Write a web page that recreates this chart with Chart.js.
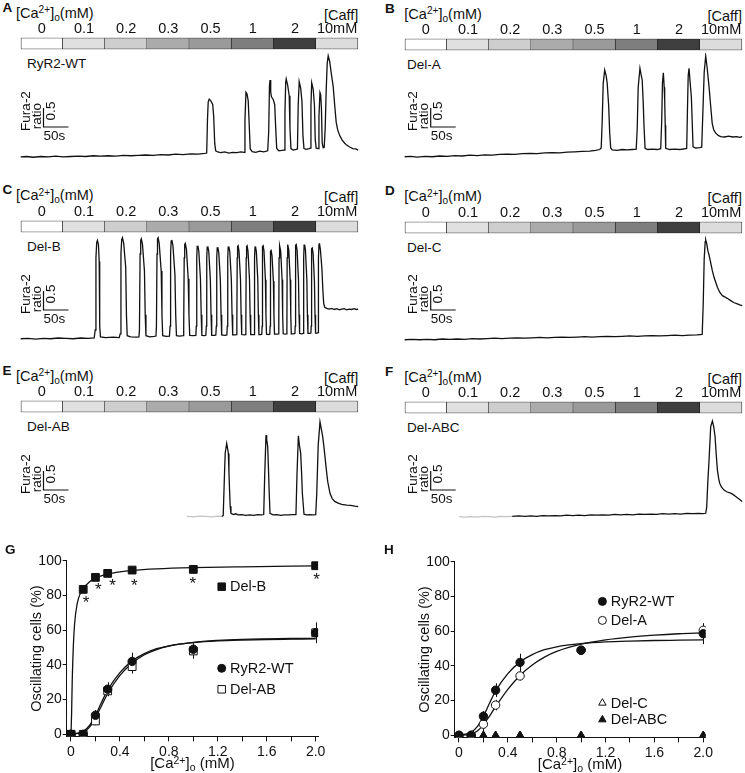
<!DOCTYPE html>
<html><head><meta charset="utf-8">
<script src="https://cdn.jsdelivr.net/npm/chart.js@4.4.1/dist/chart.umd.min.js"></script>
<style>
html,body{margin:0;padding:0;background:#fff;}
#fig{position:relative;width:745px;height:773px;overflow:hidden;font-family:"Liberation Sans",Arial,Helvetica,sans-serif;color:#111;}
#fig canvas{position:absolute;}
.lbl{position:absolute;white-space:nowrap;line-height:1;}
.sup{font-size:0.7em;position:relative;top:-0.42em;}
.sub{font-size:0.7em;position:relative;top:0.3em;}
</style></head><body><div id="fig"></div>
<script>
// ---------------- DATA ----------------
const concLabels = ['0','0.1','0.2','0.3','0.5','1','2','10mM'];
const concColors = ['#ffffff','#e0e0e0','#cecece','#ababab','#9a9a9a','#7e7e7e','#3f3f3f','#dcdcdc'];
const traceNames = ['RyR2-WT','Del-A','Del-B','Del-C','Del-AB','Del-ABC'];
const scaleBarTime = 50, scaleBarRatio = 0.5;

// Fura-2 ratio traces: [time (s), ratio]
const traceWT = [[0,0.24],[12,0.25],[25,0.23],[40,0.25],[55,0.24],[70,0.26],[85,0.24],[100,0.25],[115,0.26],[130,0.25],[145,0.27],[160,0.26],[175,0.27],[190,0.26],[205,0.28],[220,0.27],[235,0.28],[250,0.29],[265,0.28],[280,0.30],[295,0.29],[310,0.31],[325,0.30],[340,0.32],[355,0.31],[368,0.33],
[372,0.34],[373.5,1.2],[375,1.68],[377,1.76],[380,1.72],[384,1.62],[386,1.3],[388,0.6],[390,0.40],[394,0.37],[400,0.35],[408,0.37],[416,0.34],[424,0.36],[432,0.35],[440,0.37],[447,0.36],
[448.5,1.2],[450.5,1.94],[452.5,1.9],[455,1.72],[457,1.1],[459,0.45],[463,0.38],[470,0.36],[478,0.39],[486,0.37],[494,0.40],
[496,0.9],[497.5,2.1],[498.6,2.26],[500,1.95],[501.5,1.82],[505,1.75],[508,1.62],[510,1.0],[512,0.46],[516,0.40],[522,0.41],[527,0.42],
[528.5,1.4],[530,2.2],[531,2.29],[534,2.12],[537,1.85],[538.5,1.0],[540.5,0.46],[545,0.42],[551,0.44],[553.5,0.45],
[555,1.6],[557,2.22],[560,2.05],[562.5,1.7],[564.5,0.8],[566.5,0.46],[571,0.44],[577,0.46],[579,0.47],
[580.5,1.6],[582,2.19],[585,2.02],[587.5,1.6],[589,0.7],[591,0.47],[595,0.46],
[596.5,1.3],[598.5,1.93],[600,1.87],[601.5,1.5],[603,0.6],[605,0.48],[607,0.49],
[609,1.0],[611,2.0],[613,2.7],[615,2.9],[618,2.75],[621,2.45],[625,2.09],[628,1.6],[631,1.15],[634,0.95],[638,0.8],[643,0.68],[648,0.6],[652,0.55],[658,0.5],[664,0.46],[670,0.45],[675,0.42]];

const traceDelA = [[0,0.27],[12,0.28],[25,0.26],[40,0.28],[55,0.27],[70,0.29],[85,0.28],[100,0.30],[115,0.29],[130,0.31],[145,0.30],[160,0.32],[175,0.31],[190,0.33],[205,0.34],[220,0.33],[235,0.35],[250,0.36],[265,0.35],[280,0.37],[295,0.38],[310,0.37],[325,0.39],[340,0.40],[355,0.41],[370,0.42],[382,0.44],[390,0.46],[393,0.50],
[395,1.2],[397,2.2],[400,2.55],[403,2.4],[405,2.2],[408,1.6],[410,0.89],[412,0.5],[415,0.45],[425,0.44],[435,0.46],[445,0.45],[455,0.46],[463,0.47],
[465,1.0],[467,2.1],[470.5,2.6],[473,2.42],[475,2.29],[477,1.7],[478.7,1.06],[480.7,0.49],[486,0.46],[495,0.47],[505,0.46],[512,0.48],
[514,1.2],[515.5,2.2],[517.3,2.48],[519,2.1],[520,1.76],[521,1.1],[522,0.49],[530,0.46],[540,0.47],[550,0.46],[560,0.48],[564,0.49],
[565.5,1.5],[567,2.4],[568.7,2.6],[571,2.2],[573.3,1.85],[575,1.2],[576.7,0.53],[582,0.5],[590,0.51],[594,0.52],
[596,1.3],[599,2.5],[602,2.92],[605,2.6],[608.7,2.11],[612,1.6],[615,1.15],[618,0.98],[622,0.89],[627,0.83],[632,0.8],[640,0.79],[648,0.81],[656,0.79],[664,0.8],[670,0.78],[675,0.8]];

const traceDelB = [[0,0.27],[15,0.28],[30,0.26],[45,0.28],[60,0.27],[75,0.29],[90,0.28],[105,0.27],[120,0.29],[135,0.28],[147,0.29],
[149,0.5],[150.5,2.4],[152,2.8],[153.5,2.86],[155.5,2.75],[157,2.3],[158,0.6],[159.5,0.32],[170,0.3],[185,0.31],[197,0.3],
[199,0.4],[200.5,2.5],[202,2.88],[203.5,2.93],[206,2.78],[210,2.15],[211.5,0.9],[213,0.35],[220,0.32],[232,0.31],[236.5,0.32],
[237.5,0.5],[238.8,2.5],[240,2.86],[241.2,2.9],[243.5,2.76],[247.5,2.05],[249,0.9],[250.5,0.35],[258,0.32],[267,0.33],[270.5,0.34],
[271.5,0.6],[272.6,2.5],[273.6,2.9],[274.8,2.93],[277,2.78],[281,2.05],[282.5,0.9],[284,0.35],[291,0.33],[297.5,0.34],
[298.8,0.6],[299.8,2.5],[300.9,2.84],[302.2,2.87],[304.5,2.72],[308.5,1.95],[310,0.9],[311.5,0.35],[318,0.34],[325,0.35],
[326,0.6],[327,2.4],[328,2.75],[329.2,2.78],[331.5,2.62],[335,1.85],[336.5,0.9],[338,0.36],[345,0.35],[350.3,0.36],
[351.2,0.6],[352.1,2.4],[353,2.7],[354.2,2.72],[356.2,2.58],[359.5,1.85],[361,0.9],[362.3,0.36],[368,0.35],[370.3,0.36],
[371.2,0.6],[372.1,2.4],[373,2.68],[374.2,2.70],[376.2,2.56],[379.3,1.82],[380.7,0.9],[382,0.36],[388,0.36],[390.3,0.37],
[391.2,0.6],[392.1,2.4],[393,2.66],[394.2,2.68],[396.2,2.53],[399.3,1.82],[400.7,0.9],[402,0.37],[408,0.36],[412.3,0.37],
[413.2,0.6],[414.1,2.4],[415,2.68],[416.2,2.70],[418.2,2.56],[421.3,1.82],[422.7,0.9],[424,0.37],[429,0.37],[431.5,0.38],
[432.3,0.6],[433,2.4],[433.8,2.7],[434.8,2.72],[436.6,2.58],[439.6,1.82],[440.8,0.9],[442,0.38],[447,0.37],[449.6,0.38],
[450.3,0.6],[451,2.4],[451.8,2.7],[452.8,2.72],[454.6,2.58],[457.6,1.82],[458.8,0.9],[460,0.38],[464.5,0.38],[466.8,0.38],
[467.4,0.6],[468,2.4],[468.6,2.68],[469.6,2.70],[471.3,2.56],[474.2,1.82],[475.3,0.9],[476.4,0.38],[480,0.38],[482.2,0.39],
[482.8,0.6],[483.3,2.4],[483.9,2.7],[484.9,2.72],[486.6,2.58],[489.4,1.82],[490.5,0.9],[491.6,0.39],[495.5,0.38],[498.2,0.39],
[498.8,0.6],[499.3,2.3],[499.9,2.57],[500.9,2.59],[502.6,2.46],[505.4,1.78],[506.5,0.9],[507.6,0.39],[512,0.39],[515.6,0.4],
[516.2,0.6],[516.7,2.4],[517.3,2.7],[518.3,2.72],[520,2.58],[522.8,1.82],[523.9,0.9],[525,0.4],[529,0.39],[531.8,0.4],
[532.4,0.6],[532.9,2.4],[533.5,2.73],[534.5,2.75],[536.2,2.6],[539,1.82],[540.1,0.9],[541.2,0.4],[545,0.4],[548.4,0.41],
[549,0.6],[549.5,2.4],[550.1,2.73],[551.1,2.75],[552.8,2.6],[555.6,1.82],[556.7,0.9],[557.8,0.41],[562,0.4],[565.1,0.41],
[565.7,0.6],[566.2,2.4],[566.8,2.73],[567.8,2.75],[569.5,2.6],[572.3,1.82],[573.4,0.9],[574.5,0.41],[578,0.41],[580.4,0.42],
[581,0.6],[581.5,2.3],[582.1,2.64],[583.1,2.66],[584.8,2.52],[587.5,1.78],[588.6,0.9],[589.7,0.42],[592.5,0.42],[594.6,0.43],
[595.2,0.8],[595.8,2.4],[596.6,2.76],[597.6,2.78],[599.5,2.6],[602.5,2.1],[604.5,1.5],[606,1.2],[608,1.1],[612,1.07],[617,1.05],[622,1.07],[627,1.04],[632,1.06],[637,1.03],[642,1.05],[647,1.06],[652,1.03],[657,1.05],[662,1.04],[667,1.06],[671,1.04],[675,1.05]];

const traceDelC = [[0,0.27],[15,0.28],[30,0.27],[45,0.28],[60,0.27],[75,0.29],[90,0.28],[105,0.29],[120,0.28],[135,0.30],[150,0.29],[165,0.30],[180,0.31],[195,0.30],[210,0.31],[225,0.32],[240,0.31],[255,0.32],[270,0.33],[285,0.32],[300,0.33],[315,0.34],[330,0.33],[345,0.34],[360,0.35],[375,0.34],[390,0.35],[405,0.36],[420,0.35],[435,0.36],[450,0.37],[465,0.36],[480,0.37],[495,0.38],[510,0.37],[525,0.38],[540,0.39],[555,0.38],[570,0.39],[585,0.40],[595,0.41],
[597,1.2],[599,2.4],[601,2.85],[602,2.9],[604,2.8],[606.5,2.6],[608.7,2.5],[612,2.3],[615,2.1],[619,1.9],[625.4,1.65],[630,1.52],[635.4,1.43],[640,1.40],[645,1.36],[652,1.3],[658,1.25],[664,1.22],[670,1.19],[675,1.17]];

const traceDelAB = [[332,0.33],[345,0.32],[358,0.34],[370,0.33],[382,0.32],[394,0.34],[402,0.33],[405,0.35],
[407,1.2],[409,2.0],[412,2.25],[414,2.1],[415.3,1.99],[416.5,1.5],[417.5,1.1],[419,0.6],[420.5,0.41],[425,0.38],[430,0.40],[435,0.37],[442,0.38],[450,0.36],[458,0.37],[466,0.36],[474,0.38],[481,0.37],[486,0.38],
[488,1.4],[490.6,2.47],[492,2.35],[494,2.17],[495.5,1.6],[496.6,1.11],[498.6,0.41],[505,0.37],[512,0.38],[520,0.36],[528,0.37],[536,0.37],[544,0.38],[550.5,0.38],
[552.5,1.4],[555.3,2.45],[557.5,2.2],[560,1.99],[562,1.4],[563.3,0.94],[566.6,0.39],[572,0.37],[578,0.38],[584,0.37],[590,0.38],
[592,0.9],[595,2.2],[598.6,2.82],[601,2.65],[604,2.43],[607,2.1],[610.6,1.64],[614,1.25],[618.6,0.94],[623,0.8],[628.6,0.72],[635,0.68],[642,0.65],[652,0.63],[660,0.62],[668,0.6],[675,0.59]];

const traceDelABC = [[109,0.35],[120,0.34],[132,0.35],[144,0.34],[156,0.36],[168,0.35],[180,0.34],[192,0.36],[204,0.35],[215,0.36],[228,0.37],[240,0.36],[252,0.37],[264,0.36],[276,0.38],[288,0.37],[300,0.38],[312,0.37],[324,0.39],[336,0.38],[348,0.39],[360,0.38],[372,0.40],[384,0.39],[396,0.40],[408,0.39],[420,0.41],[432,0.40],[444,0.41],[456,0.40],[468,0.42],[480,0.41],[492,0.42],[504,0.41],[516,0.43],[528,0.42],[540,0.43],[552,0.42],[564,0.44],[576,0.43],[588,0.44],[596,0.43],[602,0.44],
[604,0.6],[606,1.2],[608.7,1.84],[612,2.72],[615.4,2.87],[618,2.72],[620.7,2.46],[623,2.0],[625.4,1.58],[628,1.35],[630,1.23],[634,1.12],[638.7,1.05],[645,1.0],[652,0.97],[657,0.93],[662,0.88],[668,0.82],[675,0.75]];

// Oscillating cells (%) vs [Ca2+]o (mM)
const caConc = [0, 0.1, 0.2, 0.3, 0.5, 1.0, 2.0];
const oscWT = [0, 0, 11, 26, 42, 49, 58.5];
const oscWTErr = [0, 0, 3, 4, 5, 2, 6];
const oscDelB = [0, 83.5, 90.4, 92.7, 94.6, 95, 97.1];
const oscDelBErr = [0, 2, 1.5, 2.5, 1, 2.5, 1];
const oscDelAB = [0, 0, 7.7, 25, 39, 48, 58.5];
const oscDelABErr = [0, 0, 2.5, 3, 4, 4.5, 5];
const oscDelA = [0, 0, 6.4, 17.4, 34.2, 49, 60.5];
const oscDelAErr = [0, 0, 4, 3, 2.5, 2, 4];
const oscDelC = [0, 0, 0, 0, 0, 0, 0];
const oscDelABC = [0, 0, 0, 0, 0, 0, 0];
// significance asterisks (Del-B)
const starX = [0.123, 0.223, 0.34, 0.517, 0.995, 2.008];
const starY = [78.3, 86, 88.5, 88.5, 89.3, 91.8];
// fitted curves [conc, %]
const fitDelB = [[0,0],[0.005,12],[0.01,30],[0.02,52],[0.03,64],[0.05,75],[0.075,81],[0.1,84],[0.15,87.8],[0.2,90],[0.3,92.3],[0.4,93.6],[0.5,94.4],[0.7,95.3],[1.0,96],[1.4,96.5],[2.0,97]];
const fitWT = [[0,0],[0.1,1.8],[0.15,5],[0.2,11],[0.25,18.5],[0.3,25.5],[0.4,35.5],[0.5,42.3],[0.6,46.5],[0.7,49.3],[0.8,51],[1.0,52.8],[1.2,53.8],[1.4,54.3],[1.6,54.6],[1.8,54.8],[2.0,55]];
const fitDelAB = [[0,0],[0.1,1.2],[0.15,4],[0.2,9.5],[0.25,16.5],[0.3,23.5],[0.4,34],[0.5,41],[0.6,45.8],[0.7,48.8],[0.8,50.8],[1.0,53],[1.2,54.1],[1.4,54.7],[1.6,55],[1.8,55.2],[2.0,55.3]];
const fitDelA = [[0,0],[0.1,0.8],[0.15,2.5],[0.2,6.2],[0.25,11],[0.3,16.5],[0.4,26.5],[0.5,34.5],[0.6,40.5],[0.7,45],[0.8,48.3],[1.0,52.5],[1.2,55],[1.4,56.6],[1.6,57.7],[1.8,58.5],[2.0,59]];
const xTickStep = 0.2, yTickStep = 20;

// ---------------- LAYOUT ----------------
const FONT = '"Liberation Sans", Arial, Helvetica, sans-serif';
const INK = '#111';
const fig = document.getElementById('fig');
function txt(html, x, y, o = {}) {
  const d = document.createElement('div');
  d.className = 'lbl'; d.innerHTML = html;
  d.style.fontSize = (o.size || 13) + 'px';
  d.style.fontWeight = o.weight || 'normal';
  d.style.top = y + 'px';
  let tx = '0';
  if (o.align === 'right') d.style.right = (745 - x) + 'px';
  else { d.style.left = x + 'px'; if (o.align === 'center') tx = '-50%'; }
  d.style.transform = `translate(${tx},-50%)`;
  fig.appendChild(d);
}
function makeCanvas(x, y, w, h) {
  const c = document.createElement('canvas');
  c.width = w; c.height = h;
  c.style.left = x + 'px'; c.style.top = y + 'px';
  c.style.width = w + 'px'; c.style.height = h + 'px';
  fig.appendChild(c); return c;
}
const caTitle = '[Ca<span class="sup">2+</span>]<span class="sub">o</span>(mM)';

const rows = [0, 182.5, 363];
const cols = [
  {cx: 0, letterX: 2.5, titleX: 16, labelX: 27, sbX: 43.5, dy: 0},
  {cx: 383.6, letterX: 385, titleX: 404.3, labelX: 407, sbX: 46.7, dy: 1}
];
const panels = [
  {letter: 'A', trace: traceWT, col: 0, row: 0, gray: -1},
  {letter: 'B', trace: traceDelA, col: 1, row: 0, gray: -1},
  {letter: 'C', trace: traceDelB, col: 0, row: 1, gray: -1},
  {letter: 'D', trace: traceDelC, col: 1, row: 1, gray: -1},
  {letter: 'E', trace: traceDelAB, col: 0, row: 2, gray: 402},
  {letter: 'F', trace: traceDelABC, col: 1, row: 2, gray: 215}
];

const scaleBarPlugin = {
  id: 'scaleBar',
  afterDatasetsDraw(chart, args, o) {
    const {ctx, scales: {x, y}} = chart;
    const w = x.getPixelForValue(scaleBarTime) - x.getPixelForValue(0);
    const h = y.getPixelForValue(0) - y.getPixelForValue(scaleBarRatio);
    const bx = o.left, by = o.bottom;
    ctx.save();
    ctx.strokeStyle = INK; ctx.lineWidth = 1.2;
    ctx.beginPath(); ctx.moveTo(bx, by - h); ctx.lineTo(bx, by); ctx.lineTo(bx + w, by); ctx.stroke();
    ctx.fillStyle = INK; ctx.font = '13.5px ' + FONT;
    ctx.textBaseline = 'middle'; ctx.textAlign = 'left';
    ctx.fillText(scaleBarTime + 's', bx, by + 9.5);
    const rot = (s, cx, cy) => { ctx.save(); ctx.translate(cx, cy); ctx.rotate(-Math.PI / 2); ctx.textAlign = 'center'; ctx.fillText(s, 0, 0); ctx.restore(); };
    rot(String(scaleBarRatio), bx + 8, by - 16);
    rot('ratio', bx - 6.4, by - 11);
    rot('Fura-2', bx - 17.5, by - 16);
    ctx.restore();
  }
};

panels.forEach((p, i) => {
  const c = cols[p.col];
  const py = rows[p.row] + c.dy;
  txt(p.letter, c.letterX, py + 7.5, {weight: 'bold', size: 13.5});
  txt(caTitle, c.titleX, py + 12.5, {size: 14.5});
  txt('[Caff]', c.cx + 358.3, py + 14.5, {size: 14.5, align: 'right'});
  txt(traceNames[i], c.labelX, py + 64, {size: 13.5});

  // concentration bar
  const cb = makeCanvas(c.cx, py + 17, 372, 33);
  new Chart(cb, {
    type: 'bar',
    data: {labels: concLabels, datasets: [{
      data: concLabels.map(() => [0, 1]),
      backgroundColor: concColors, borderColor: '#1a1a1a', borderSkipped: false,
      borderWidth: (ctx) => ctx.dataIndex === 0 ? 1 : {top: 1, bottom: 1, right: 1, left: 0},
      barPercentage: 1, categoryPercentage: 1
    }]},
    options: {
      responsive: false, animation: false, events: [], devicePixelRatio: 1,
      layout: {padding: {left: 20.7, right: 13.8, top: 0, bottom: 0.7}},
      plugins: {legend: {display: false}, tooltip: {enabled: false}},
      scales: {
        x: {position: 'top', grid: {display: false, drawTicks: false}, border: {display: false},
            ticks: {color: INK, font: {size: 14.5, family: FONT}, padding: 0, maxRotation: 0, autoSkip: false},
            afterFit: (s) => { s.height = 20.7; }},
        y: {display: false, min: 0, max: 1}
      }
    }
  });

  // trace
  const tc = makeCanvas(c.cx, py + 52, 372, 128);
  new Chart(tc, {
    type: 'line',
    data: {datasets: [{
      data: p.trace.map(([t, r]) => ({x: t, y: r})),
      borderColor: INK, borderWidth: 1.3, pointRadius: 0, tension: 0, fill: false, clip: false,
      segment: {borderColor: (ctx) => ctx.p1.parsed.x <= p.gray ? '#c4c4c4' : INK}
    }]},
    options: {
      responsive: false, animation: false, events: [], devicePixelRatio: 1,
      layout: {padding: {left: 20.7, right: 13.8, top: 0, bottom: 14}},
      plugins: {legend: {display: false}, tooltip: {enabled: false},
        scaleBar: {left: c.sbX, bottom: 75 - c.dy}},
      scales: {x: {type: 'linear', min: 0, max: 675, display: false},
               y: {type: 'linear', min: 0, max: 3, display: false}}
    },
    plugins: [scaleBarPlugin]
  });
});

// ---------------- G & H ----------------
const pts = (ys) => caConc.map((x, i) => ({x, y: ys[i]}));
const fitPts = (f) => f.map(([x, y]) => ({x, y}));
const marker = (style, fill, r) => ({showLine: false, pointStyle: style, pointRadius: r, pointBackgroundColor: fill, pointBorderColor: INK, pointBorderWidth: 1});
const fitLine = {showLine: true, pointRadius: 0, borderColor: INK, borderWidth: 1.3, cubicInterpolationMode: 'monotone', fill: false};

function drawMarker(ctx, style, fill, x, y, r) {
  ctx.save(); ctx.fillStyle = fill; ctx.strokeStyle = INK; ctx.lineWidth = 1;
  ctx.beginPath();
  if (style === 'rect') { const s = r * Math.SQRT1_2; ctx.rect(x - s, y - s, 2 * s, 2 * s); }
  else if (style === 'circle') ctx.arc(x, y, r, 0, Math.PI * 2);
  else { for (let k = 0; k < 3; k++) { const a = k * 2 * Math.PI / 3; const px = x + Math.sin(a) * r, py = y - Math.cos(a) * r; k ? ctx.lineTo(px, py) : ctx.moveTo(px, py); } ctx.closePath(); }
  ctx.fill(); ctx.stroke(); ctx.restore();
}

const extrasPlugin = {
  id: 'extras',
  beforeDatasetsDraw(chart, a, o) {
    const {ctx, scales: {x, y}} = chart;
    ctx.save(); ctx.strokeStyle = INK; ctx.lineWidth = 1;
    (o.errors || []).forEach(([ys, es]) => {
      caConc.forEach((cx, i) => {
        if (!es[i]) return;
        const px = Math.round(x.getPixelForValue(cx)) + 0.5;
        ctx.beginPath(); ctx.moveTo(px, y.getPixelForValue(ys[i] - es[i])); ctx.lineTo(px, y.getPixelForValue(ys[i] + es[i])); ctx.stroke();
      });
    });
    ctx.restore();
  },
  afterDatasetsDraw(chart, a, o) {
    const {ctx, scales: {x, y}} = chart;
    ctx.save(); ctx.fillStyle = INK;
    if (o.stars) {
      ctx.font = '17px ' + FONT; ctx.textAlign = 'center'; ctx.textBaseline = 'alphabetic';
      o.stars[0].forEach((sx, i) => ctx.fillText('*', x.getPixelForValue(sx), y.getPixelForValue(o.stars[1][i]) + 10));
    }
    ctx.font = '14.5px ' + FONT; ctx.textAlign = 'left'; ctx.textBaseline = 'middle';
    (o.legend || []).forEach(it => {
      drawMarker(ctx, it.style, it.fill, it.mx, it.y, it.r);
      ctx.fillStyle = INK; ctx.fillText(it.text, it.tx, it.y + 0.5);
    });
    ctx.restore();
  }
};

function doseChart(cx, cy, w, datasets, extras) {
  const cv = makeCanvas(cx, cy, w, 233);
  new Chart(cv, {
    type: 'scatter',
    data: {datasets},
    options: {
      responsive: false, animation: false, events: [], devicePixelRatio: 1,
      layout: {padding: {left: 24, right: w - 318.1, top: 20.7, bottom: 0}},
      plugins: {legend: {display: false}, tooltip: {enabled: false}, extras},
      scales: {
        x: {type: 'linear', min: -0.035, max: 2.02,
            grid: {display: true, drawOnChartArea: false, drawTicks: true, tickLength: 5, color: INK},
            border: {display: true, color: INK, width: 1},
            ticks: {stepSize: xTickStep, includeBounds: false, color: INK, font: {size: 14, family: FONT}, padding: 2, maxRotation: 0, autoSkip: false,
                    callback: (v) => { const r = Math.round(v * 10); return r % 4 !== 0 ? '' : (r === 0 ? '0' : (r / 10).toFixed(1)); }},
            afterFit: (s) => { s.height = 36.6; }},
        y: {type: 'linear', min: -1.2, max: 100,
            grid: {display: true, drawOnChartArea: false, drawTicks: true, tickLength: 4, color: INK},
            border: {display: true, color: INK, width: 1},
            ticks: {stepSize: yTickStep, includeBounds: false, color: INK, font: {size: 14, family: FONT}, padding: 1},
            title: {display: true, text: 'Oscillating cells (%)', color: INK, font: {size: 14.5, family: FONT}, padding: {top: 4, bottom: 0}},
            afterFit: (s) => { s.width = 42.7; }}
      }
    },
    plugins: [extrasPlugin]
  });
}

// G
doseChart(0, 540, 372, [
  {data: pts(oscDelB), ...marker('rect', INK, 5.5)},
  {data: pts(oscWT), ...marker('circle', INK, 4.2)},
  {data: pts(oscDelAB), ...marker('rect', '#fff', 5.5)},
  {data: fitPts(fitDelB), ...fitLine},
  {data: fitPts(fitWT), ...fitLine},
  {data: fitPts(fitDelAB), ...fitLine}
], {
  errors: [[oscDelB, oscDelBErr], [oscWT, oscWTErr], [oscDelAB, oscDelABErr]],
  stars: [starX, starY],
  legend: [
    {style: 'rect', fill: INK, r: 5.3, mx: 221.7, tx: 230, y: 46.7, text: 'Del-B'},
    {style: 'circle', fill: INK, r: 4, mx: 221.7, tx: 230, y: 128.3, text: 'RyR2-WT'},
    {style: 'rect', fill: '#fff', r: 5.3, mx: 221.7, tx: 230, y: 149.3, text: 'Del-AB'}
  ]
});
// H
doseChart(387.6, 541.3, 357.4, [
  {data: pts(oscWT), ...marker('circle', INK, 4.2)},
  {data: pts(oscDelA), ...marker('circle', '#fff', 4.2)},
  {data: pts(oscDelABC), ...marker('triangle', INK, 4.3)},
  {data: pts(oscDelC), ...marker('triangle', '#fff', 4.3)},
  {data: fitPts(fitWT), ...fitLine},
  {data: fitPts(fitDelA), ...fitLine}
], {
  errors: [[oscWT, oscWTErr], [oscDelA, oscDelAErr]],
  legend: [
    {style: 'circle', fill: INK, r: 4, mx: 214.4, tx: 222.7, y: 60.4, text: 'RyR2-WT'},
    {style: 'circle', fill: '#fff', r: 4, mx: 214.4, tx: 222.7, y: 79.4, text: 'Del-A'},
    {style: 'triangle', fill: '#fff', r: 4.3, mx: 214.4, tx: 222.7, y: 162, text: 'Del-C'},
    {style: 'triangle', fill: INK, r: 4.3, mx: 214.4, tx: 222.7, y: 178.7, text: 'Del-ABC'}
  ]
});
txt('G', 5, 550, {weight: 'bold', size: 13.5});
txt('H', 384, 550, {weight: 'bold', size: 13.5});
const caAxis = '[Ca<span class="sup">2+</span>]<span class="sub">o</span> (mM)';
txt(caAxis, 192.4, 762, {size: 15, align: 'center'});
txt(caAxis, 580, 763, {size: 15, align: 'center'});
</script></body></html>
